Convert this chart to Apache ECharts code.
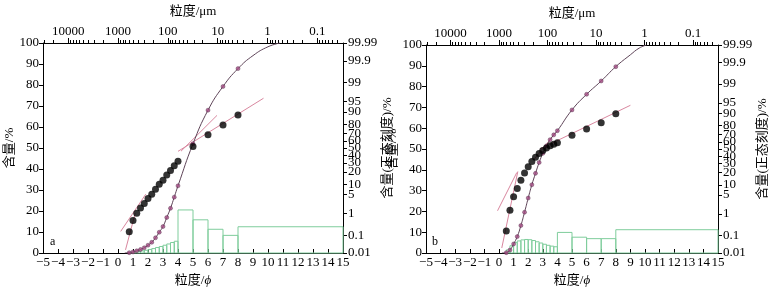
<!DOCTYPE html>
<html lang="zh">
<head>
    <meta charset="UTF-8">
    <title>粒度分布</title>
    <script src="https://cdn.jsdelivr.net/npm/echarts@6/dist/echarts.min.js"></script>
    <style>
        html, body { margin: 0; padding: 0; background: #fff; }
        #chart { width: 771px; height: 297px; }
    </style>
</head>
<body>
<div id="chart"></div>
<script type="text/javascript">
    // panel a: cumulative content (%) at phi sizes
    var aPhi = [0.75, 1, 1.25, 1.5, 1.75, 2, 2.25, 2.5, 2.75, 3, 3.25, 3.5, 3.75, 4, 5, 6, 7, 8];
    var aCum = [0.15, 0.51, 1.04, 1.67, 2.48, 3.71, 5.09, 7.24, 9.9, 12.6, 16.9, 21.3, 26.6, 32.0, 52.0, 68.0, 79.3, 87.8];
    // smooth cumulative curve ends (start and tail to 100%)
    var aCurveHead = [[0.45, 0]];
    var aCurveTail = [[9, 94], [10, 98.2], [10.8, 100]];
    // frequency histogram (bin edges + content %)
    var aEdges = [0.75, 1, 1.25, 1.5, 1.75, 2, 2.25, 2.5, 2.75, 3, 3.25, 3.5, 3.75, 4, 5, 6, 7, 8, 15];
    var aFreq = [0.3, 0.5, 0.7, 1.0, 1.3, 1.7, 2.1, 2.6, 3.1, 3.7, 4.3, 5.0, 5.6, 20.5, 15.8, 11.3, 8.4, 12.5];
    // fitted straight segments on probability paper: [phi, cum%]
    var aFits = [
        [[0.5, 0.0154], [1.15, 1.06]],
        [[0.18, 0.157], [1.85, 5.09]],
        [[4.2, 45.5], [6.6, 87.6]],
        [[4.0, 45.3], [9.7, 96.1]]
    ];

    // panel b
    var bPhi = [0.5, 0.75, 1, 1.25, 1.5, 1.75, 2, 2.25, 2.5, 2.75, 3, 3.25, 3.5, 3.75, 4, 5, 6, 7, 8];
    var bCum = [0.17, 1.41, 4.35, 7.88, 13.2, 19.6, 26.4, 32.8, 38.3, 43.5, 47.9, 51.5, 54.5, 56.8, 58.8, 68.8, 76.3, 82.7, 89.6];
    var bCurveHead = [[0.2, 0]];
    var bCurveTail = [[9, 95.3], [9.6, 98.5], [10.1, 100]];
    var bEdges = [0.5, 0.75, 1, 1.25, 1.5, 1.75, 2, 2.25, 2.5, 2.75, 3, 3.25, 3.5, 3.75, 4, 5, 6, 7, 8, 15];
    var bFreq = [1.5, 3.5, 5.0, 5.8, 6.3, 6.5, 6.4, 6.0, 5.4, 4.8, 4.2, 3.7, 3.3, 3.0, 9.9, 7.6, 6.9, 6.9, 11.2];
    var bFits = [
        [[0.19, 0.02], [1.29, 21.1]],
        [[-0.1, 1.36], [1.22, 20.0]],
        [[2.4, 35.5], [3.9, 72.4]],
        [[2.8, 50.0], [9.0, 94.1]]
    ];

    // axis tick labels
    var micronLabels = [10000, 1000, 100, 10, 1, 0.1];
    var probLabels = [0.01, 0.1, 1, 5, 10, 20, 30, 40, 50, 60, 70, 80, 90, 95, 99, 99.9, 99.99];

    var SERIF = 'Liberation Serif, DejaVu Serif, Noto Sans CJK SC, serif';
    var GREEN = '#7fcd9c';
    var PINK = '#d9879f';
    var PURPLE_LINE = '#5e4458';
    var PURPLE_DOT = '#a24a82';

    // inverse normal CDF (Acklam)
    function probit(p) {
        var a = [-3.969683028665376e+01, 2.209460984245205e+02, -2.759285104469687e+02,
            1.383577518672690e+02, -3.066479806614716e+01, 2.506628277459239e+00];
        var b = [-5.447609879822406e+01, 1.615858368580409e+02, -1.556989798598866e+02,
            6.680131188771972e+01, -1.328068155288572e+01];
        var c = [-7.784894002430293e-03, -3.223964580411365e-01, -2.400758277161838e+00,
            -2.549732539343734e+00, 4.374664141464968e+00, 2.938163982698783e+00];
        var d = [7.784695709041462e-03, 3.224671290700398e-01, 2.445134137142996e+00,
            3.754408661907416e+00];
        var q, r;
        if (p < 0.02425) {
            q = Math.sqrt(-2 * Math.log(p));
            return (((((c[0] * q + c[1]) * q + c[2]) * q + c[3]) * q + c[4]) * q + c[5]) /
                ((((d[0] * q + d[1]) * q + d[2]) * q + d[3]) * q + 1);
        }
        if (p <= 1 - 0.02425) {
            q = p - 0.5;
            r = q * q;
            return (((((a[0] * r + a[1]) * r + a[2]) * r + a[3]) * r + a[4]) * r + a[5]) * q /
                (((((b[0] * r + b[1]) * r + b[2]) * r + b[3]) * r + b[4]) * r + 1);
        }
        q = Math.sqrt(-2 * Math.log(1 - p));
        return -(((((c[0] * q + c[1]) * q + c[2]) * q + c[3]) * q + c[4]) * q + c[5]) /
            ((((d[0] * q + d[1]) * q + d[2]) * q + d[3]) * q + 1);
    }
    var zMax = probit(0.9999);

    function micronToPhi(um) {
        return Math.log2(1000 / um);
    }

    var majorPhi = micronLabels.map(micronToPhi);
    var minorPhi = [];
    for (var k = -3; k <= 4; k++) {
        for (var m = 2; m <= 9; m++) {
            var ph = micronToPhi(m * Math.pow(10, k));
            if (ph >= -5 && ph <= 15) minorPhi.push(ph);
        }
    }
    var probZ = probLabels.map(function (p) { return probit(p / 100); });

    function nearestLabel(value, positions, labels) {
        for (var i = 0; i < positions.length; i++) {
            if (Math.abs(positions[i] - value) < 1e-6) return String(labels[i]);
        }
        return '';
    }

    var AXIS_LINE = {show: true, onZero: false, lineStyle: {color: '#000', width: 1}};

    function makeAxes(left, right) {
        var xs = [
            {
                type: 'value', gridIndex: 0, position: 'bottom', min: -5, max: 15, interval: 1,
                axisLine: AXIS_LINE,
                axisTick: {inside: true, length: 4, lineStyle: {color: '#000'}},
                splitLine: {show: false},
                axisLabel: {
                    color: '#000', fontFamily: SERIF, fontSize: 13, margin: 3,
                    formatter: function (v) { return v < 0 ? '\u2212' + (-v) : String(v); }
                },
                name: '粒度/{i|ϕ}', nameLocation: 'middle', nameGap: 17,
                nameTextStyle: {color: '#000', fontFamily: SERIF, fontSize: 13, rich: {i: {fontStyle: 'italic', fontFamily: SERIF, fontSize: 13}}}
            },
            {
                type: 'value', gridIndex: 0, position: 'top', min: -5, max: 15,
                axisLine: AXIS_LINE,
                axisTick: {customValues: majorPhi, length: 5, lineStyle: {color: '#000'}},
                splitLine: {show: false},
                axisLabel: {
                    customValues: majorPhi, color: '#000', fontFamily: SERIF, fontSize: 13, margin: 5,
                    formatter: function (v) { return nearestLabel(v, majorPhi, micronLabels); }
                },
                name: '粒度/μm', nameLocation: 'middle', nameGap: 25,
                nameTextStyle: {color: '#000', fontFamily: SERIF, fontSize: 13}
            },
            {
                type: 'value', gridIndex: 0, position: 'top', min: -5, max: 15,
                axisLine: {show: false, onZero: false},
                axisTick: {customValues: minorPhi, length: 3, lineStyle: {color: '#000'}},
                axisLabel: {show: false},
                splitLine: {show: false}
            }
        ];
        var ys = [
            {
                type: 'value', gridIndex: 0, position: 'left', min: 0, max: 100, interval: 10,
                axisLine: AXIS_LINE,
                axisTick: {show: true, length: 4, lineStyle: {color: '#000'}},
                splitLine: {show: false},
                axisLabel: {color: '#000', fontFamily: SERIF, fontSize: 13, margin: 4},
                name: '含量/%', nameLocation: 'middle', nameGap: left, nameRotate: 90,
                nameTextStyle: {color: '#000', fontFamily: SERIF, fontSize: 13}
            },
            {
                type: 'value', gridIndex: 0, position: 'right', min: -zMax, max: zMax,
                axisLine: AXIS_LINE,
                axisTick: {show: true, customValues: probZ, length: 4, lineStyle: {color: '#000'}},
                splitLine: {show: false},
                axisLabel: {
                    customValues: probZ, color: '#000', fontFamily: SERIF, fontSize: 13, margin: 5,
                    lineHeight: 10,
                    formatter: function (v) { return nearestLabel(v, probZ, probLabels); }
                },
                name: '含量(正态刻度)/%', nameLocation: 'middle', nameGap: right, nameRotate: 90,
                nameTextStyle: {color: '#000', fontFamily: SERIF, fontSize: 13}
            }
        ];
        return {xs: xs, ys: ys};
    }

    function makeSeries(g, phi, cum, head, tail, edges, freq, fits) {
        var xBottom = g * 3, yLeft = g * 2, yRight = g * 2 + 1;
        var bins = [];
        for (var i = 0; i < freq.length; i++) bins.push([edges[i], edges[i + 1], freq[i]]);
        var pts = phi.map(function (p, i) { return [p, cum[i]]; });
        var curve = head.concat(pts, tail);
        var probPts = phi.map(function (p, i) { return [p, probit(cum[i] / 100)]; });

        var list = [
            {
                type: 'custom', xAxisIndex: xBottom, yAxisIndex: yLeft, data: bins,
                encode: {x: [0, 1], y: 2}, silent: true, z: 1,
                renderItem: function (params, api) {
                    var p0 = api.coord([api.value(0), api.value(2)]);
                    var p1 = api.coord([api.value(1), 0]);
                    return {
                        type: 'rect',
                        shape: {x: p0[0], y: p0[1], width: p1[0] - p0[0], height: p1[1] - p0[1]},
                        style: {fill: 'none', stroke: GREEN, lineWidth: 1}
                    };
                }
            },
            {
                type: 'line', xAxisIndex: xBottom, yAxisIndex: yLeft, data: curve,
                smooth: 0.5, showSymbol: false, silent: true, z: 3,
                lineStyle: {color: PURPLE_LINE, width: 1}
            },
            {
                type: 'scatter', xAxisIndex: xBottom, yAxisIndex: yLeft, data: pts,
                symbol: 'circle', symbolSize: 4, z: 4,
                itemStyle: {color: PURPLE_DOT, borderColor: '#4a2a44', borderWidth: 0.5}
            },
            {
                type: 'scatter', xAxisIndex: xBottom, yAxisIndex: yRight, data: probPts,
                symbol: 'circle', symbolSize: 7, z: 5,
                itemStyle: {color: '#000'}
            }
        ];
        fits.forEach(function (seg) {
            list.push({
                type: 'line', xAxisIndex: xBottom, yAxisIndex: yRight, z: 2,
                data: seg.map(function (d) { return [d[0], probit(d[1] / 100)]; }),
                showSymbol: false, silent: true,
                lineStyle: {color: PINK, width: 1}
            });
        });
        return list;
    }

    var chart = echarts.init(document.getElementById('chart'));

    var axA = makeAxes(27, 29);
    var axB = makeAxes(27, 32);
    axB.xs.forEach(function (a) { a.gridIndex = 1; });
    axB.ys.forEach(function (a) { a.gridIndex = 1; });

    var option = {
        backgroundColor: '#fff',
        animation: false,
        grid: [
            {left: 43, top: 40, width: 300, height: 213},
            {left: 426, top: 45, width: 292, height: 208}
        ],
        xAxis: axA.xs.concat(axB.xs),
        yAxis: axA.ys.concat(axB.ys),
        series: makeSeries(0, aPhi, aCum, aCurveHead, aCurveTail, aEdges, aFreq, aFits)
            .concat(makeSeries(1, bPhi, bCum, bCurveHead, bCurveTail, bEdges, bFreq, bFits)),
        graphic: [
            {type: 'text', left: 50, top: 236, style: {text: 'a', font: '12px Liberation Serif', fill: '#000'}},
            {type: 'text', left: 432, top: 236, style: {text: 'b', font: '12px Liberation Serif', fill: '#000'}}
        ]
    };
    chart.setOption(option);
</script>
</body>
</html>
